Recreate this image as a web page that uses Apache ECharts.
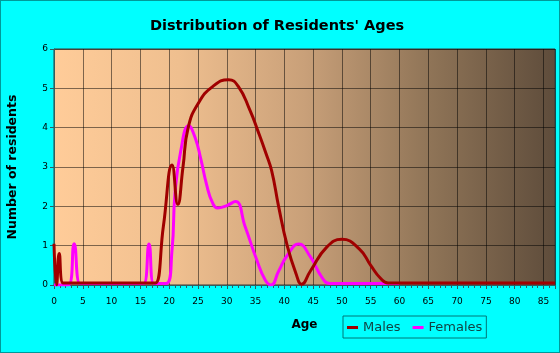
<!DOCTYPE html>
<html>
<head>
<meta charset="utf-8">
<script src="https://cdn.jsdelivr.net/npm/echarts@6/dist/echarts.min.js"></script>
<style>
html,body{margin:0;padding:0;background:#00FFFF;}
#c{position:absolute;left:0;top:0;width:560px;height:353px;}
#frame{position:absolute;left:0;top:0;width:558px;height:351px;border:1px solid #009999;pointer-events:none;}
</style>
</head>
<body>
<div id="c"></div>
<div id="frame"></div>
<script>
var xTicks = [0,5,10,15,20,25,30,35,40,45,50,55,60,65,70,75,80,85];
var yTicks = [0,1,2,3,4,5,6];

var maleAges   = [0, 0.45, 0.9, 1.6, 2.5, 16.8, 17.6, 19, 20.5, 21.5, 22.4, 23.3, 25.1, 27.6, 30.3, 32, 34, 35.5, 36.8, 37.8, 39, 40.5, 42, 43, 44.5, 47.4, 50, 53, 55, 56.7, 58, 60, 87];
var maleValues = [1.05, 0, 0.8, 0.05, 0.05, 0.05, 0.05, 1.5, 3.05, 2.05, 3.0, 4.0, 4.63, 5.05, 5.22, 5.05, 4.45, 3.88, 3.35, 2.9, 2.0, 1.0, 0.3, 0.02, 0.35, 0.97, 1.16, 0.92, 0.5, 0.17, 0.05, 0.05, 0.05];

var femaleAges   = [0, 2.5, 3.5, 4.5, 5.3, 14.8, 15.6, 16.5, 17.3, 18, 19.5, 20.5, 21, 22, 23.4, 24.5, 25.5, 26.5, 27.5, 28.4, 30, 31.5, 33.2, 35.2, 36.7, 37.7, 39, 40.5, 42.5, 44.5, 46.5, 47.8, 49, 60];
var femaleValues = [0, 0, 1.05, 0.04, 0.04, 0.04, 0.04, 1.04, 0.04, 0.04, 0.04, 0.9, 2.3, 3.4, 4.05, 3.75, 3.2, 2.55, 2.1, 1.96, 2.02, 2.12, 1.48, 0.64, 0.12, 0, 0.35, 0.75, 1.04, 0.72, 0.2, 0.04, 0.04, 0.04];

function pairs(xs, ys){ return xs.map(function(x,i){ return [x, ys[i]]; }); }

var FONT = 'DejaVu Sans';
var chart = echarts.init(document.getElementById('c'), null, {renderer:'canvas'});
chart.setOption({
  backgroundColor: '#00FFFF',
  animation: false,
  title: {
    text: "Distribution of Residents' Ages",
    left: 272, top: 14, textAlign: 'center',
    textStyle: {fontFamily: FONT, fontWeight: 'bold', fontSize: 14.5, color: '#000'}
  },
  legend: {
    left: 343, top: 316,
    orient: 'horizontal',
    padding: [5, 4, 4, 4],
    itemGap: 12,
    itemWidth: 11, itemHeight: 3,
    icon: 'rect',
    borderColor: '#007777', borderWidth: 1,
    textStyle: {fontFamily: FONT, fontSize: 13, color: '#114444'},
    data: ['Males', 'Females']
  },
  grid: {
    left: 54, right: 5, top: 49, bottom: 68,
    outerBoundsMode: 'none',
    containLabel: false,
    show: true,
    borderColor: '#3a3a3a', borderWidth: 1,
    backgroundColor: new echarts.graphic.LinearGradient(0, 0, 1, 0, [
      {offset: 0, color: '#FFCC99'},
      {offset: 0.25, color: '#EFBF8F'},
      {offset: 0.5, color: '#C9A079'},
      {offset: 0.75, color: '#8F7457'},
      {offset: 1, color: '#5E4C3B'}
    ])
  },
  xAxis: {
    type: 'value', min: 0, max: 87, interval: 5,
    name: 'Age', nameLocation: 'middle', nameGap: 34,
    nameTextStyle: {fontFamily: FONT, fontWeight: 'bold', fontSize: 12, color: '#000'},
    axisLine: {show: true, lineStyle: {color: '#2f5f5f', width: 1}},
    axisTick: {show: true, length: 4, lineStyle: {color: '#2f5f5f'}},
    minorTick: {show: true, splitNumber: 5, length: 3, lineStyle: {color: '#2f5f5f'}},
    axisLabel: {
      fontFamily: FONT, fontSize: 9, color: '#000', margin: 12,
      formatter: function(v){ return xTicks.indexOf(v) >= 0 ? String(v) : ''; },
      showMaxLabel: false
    },
    splitLine: {show: true, lineStyle: {color: 'rgba(0,0,0,0.5)', width: 1}}
  },
  yAxis: {
    type: 'value', min: 0, max: 6, interval: 1,
    name: 'Number of residents', nameLocation: 'middle', nameGap: 35, nameRotate: 90,
    nameTextStyle: {fontFamily: FONT, fontWeight: 'bold', fontSize: 12.5, color: '#000'},
    axisLine: {show: true, lineStyle: {color: '#2f5f5f', width: 1}},
    axisTick: {show: true, length: 4, lineStyle: {color: '#2f5f5f'}},
    axisLabel: {
      fontFamily: FONT, fontSize: 9, color: '#000', margin: 6,
      formatter: function(v){ return yTicks.indexOf(v) >= 0 ? String(v) : ''; }
    },
    splitLine: {show: true, lineStyle: {color: 'rgba(0,0,0,0.5)', width: 1}}
  },
  series: [
    {
      name: 'Females', type: 'line', smooth: 0.5, showSymbol: false, symbol: 'none',
      data: pairs(femaleAges, femaleValues),
      lineStyle: {color: '#FF00FF', width: 3},
      itemStyle: {color: '#FF00FF'},
      z: 2
    },
    {
      name: 'Males', type: 'line', smooth: 0.5, showSymbol: false, symbol: 'none',
      data: pairs(maleAges, maleValues),
      lineStyle: {color: '#A00000', width: 3},
      itemStyle: {color: '#A00000'},
      z: 3
    }
  ]
});
</script>
</body>
</html>
